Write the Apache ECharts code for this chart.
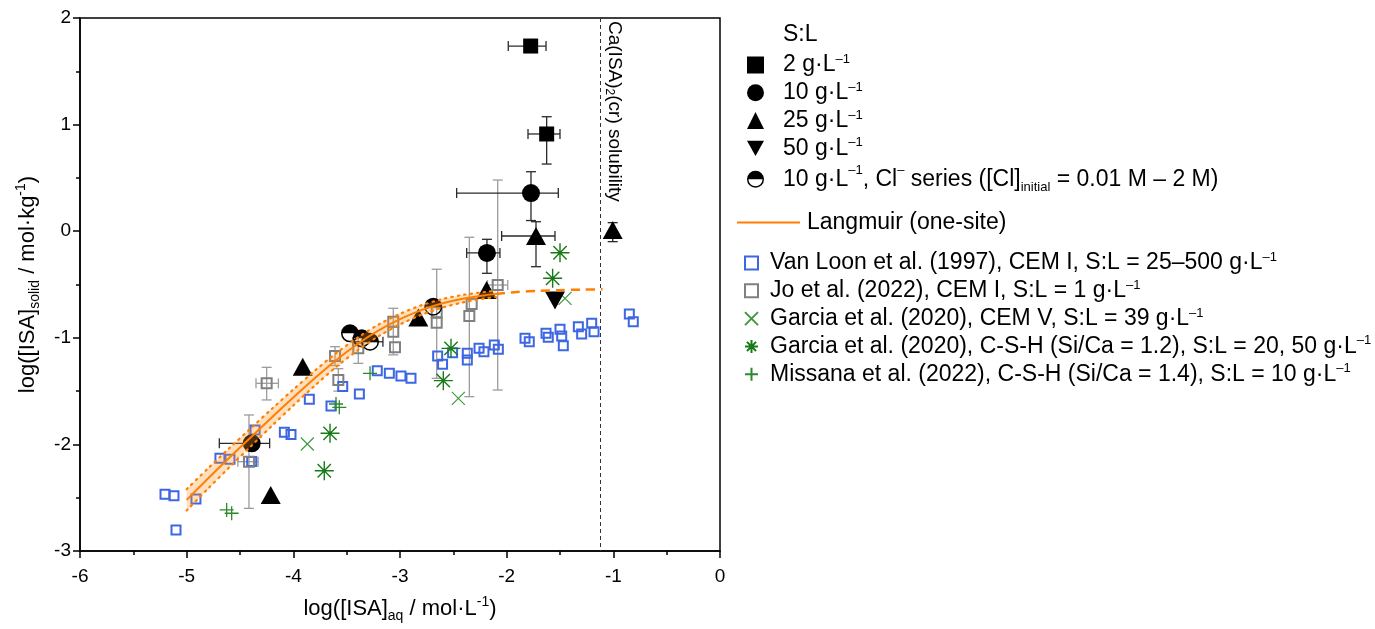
<!DOCTYPE html>
<html><head><meta charset="utf-8">
<script src="https://cdn.jsdelivr.net/npm/echarts@6/dist/echarts.min.js"></script>
<style>html,body{margin:0;padding:0;background:#fff}#c{width:1375px;height:629px}</style>
</head><body><div id="c"></div>
<script>
// ---------- data ----------
const xTicks = [-6, -5, -4, -3, -2, -1, 0];
const yTicks = [-3, -2, -1, 0, 1, 2];
const solubilityX = -1.12;

// this work, black symbols [x, y]
const sl2 = [[-1.775, 1.737], [-1.625, 0.912]];
const sl2Err = [[-1.985, -1.631, null, null], [-1.80, -1.50, 0.63, 1.074]];
const sl10 = [[-1.772, 0.358], [-2.185, -0.204], [-4.39, -1.99]];
const sl10Err = [[-2.469, -1.516, 0.10, 0.558], [-2.375, -2.063, -0.395, -0.076], [-4.694, -4.222, null, null]];
const sl25 = [[-3.912, -1.271], [-4.212, -2.475], [-2.828, -0.81], [-2.188, -0.552], [-1.725, -0.045], [-1.006, 0.011]];
const sl25Err = [[null, null, null, null], [null, null, null, null], [null, null, null, null], [null, null, null, null],
                 [-2.047, -1.547, -0.333, 0.089], [null, null, -0.098, 0.08]];
const sl50 = [[-1.547, -0.65]];
const clSeries = [[-3.469, -0.958], [-3.359, -1.005], [-3.281, -1.037], [-2.688, -0.708]];
const clErr = [[null, null, null, null], [null, null, null, null], [-3.44, -3.16, null, null], [null, null, null, null]];

// Langmuir (one-site) curve and confidence band
const fitX = [-5.0, -4.8, -4.6, -4.4, -4.2, -4.0, -3.8, -3.6, -3.4, -3.2, -3.0, -2.8, -2.6, -2.4, -2.2, -2.1];
const fitY = [-2.52, -2.32, -2.125, -1.935, -1.745, -1.56, -1.38, -1.21, -1.06, -0.93, -0.825, -0.74, -0.676, -0.631, -0.6, -0.588];
const fitHi = [-2.42, -2.225, -2.035, -1.85, -1.665, -1.485, -1.31, -1.145, -1.0, -0.875, -0.775, -0.695, -0.636, -0.596, -0.57, -0.558];
const fitLo = [-2.62, -2.415, -2.215, -2.02, -1.825, -1.635, -1.45, -1.275, -1.12, -0.985, -0.875, -0.785, -0.716, -0.666, -0.63, -0.618];
const extX = [-2.1, -1.9, -1.7, -1.5, -1.3, -1.1];
const extY = [-0.588, -0.57, -0.56, -0.553, -0.548, -0.545];

// literature data
const vanLoon = [[-5.203, -2.468], [-5.119, -2.481], [-5.1, -2.803], [-4.913, -2.512], [-4.688, -2.131], [-4.594, -2.14],
  [-4.359, -1.865], [-4.39, -2.16], [-4.084, -1.887], [-4.022, -1.906], [-3.85, -1.577], [-3.647, -1.64], [-3.537, -1.458],
  [-3.381, -1.527], [-3.213, -1.308], [-3.1, -1.333], [-2.991, -1.358], [-2.897, -1.38], [-2.647, -1.171], [-2.601, -1.249],
  [-2.507, -1.14], [-2.369, -1.146], [-2.369, -1.208], [-2.259, -1.099], [-2.213, -1.13], [-2.116, -1.067], [-2.078, -1.108],
  [-1.828, -1.005], [-1.788, -1.037], [-1.631, -0.958], [-1.61, -0.996], [-1.5, -0.92], [-1.484, -0.983], [-1.469, -1.074],
  [-1.328, -0.896], [-1.297, -0.964], [-1.203, -0.864], [-1.181, -0.943], [-0.85, -0.777], [-0.813, -0.849]];
const jo = [[-4.25, -1.427], [-4.416, -2.162], [-3.578, -1.396], [-3.609, -1.171], [-3.391, -1.099], [-3.063, -0.849],
  [-3.063, -0.943], [-3.047, -1.089], [-2.656, -0.858], [-2.656, -0.76], [-2.328, -0.683], [-2.35, -0.795], [-2.084, -0.505]];
const joErr = [[-4.35, -4.14, -1.583, -1.277], [-4.52, -4.33, -2.6, -1.724], [null, null, -1.5, -1.29], [null, null, -1.26, -1.083],
  [null, null, -1.24, -0.96], [null, null, null, null], [null, null, -1.16, -0.723], [null, null, null, null],
  [null, null, -1.38, -0.357], [null, null, null, null], [null, null, null, null], [null, null, -1.552, -0.057],
  [-2.18, -1.99, -1.49, 0.48]];
const garciaV = [[-3.869, -1.996], [-2.453, -1.568], [-1.453, -0.63]];
const garciaCSH = [[-3.656, -1.896], [-3.71, -2.247], [-2.522, -1.099], [-2.594, -1.402], [-1.5, -0.202], [-1.569, -0.442]];
const missana = [[-4.625, -2.615], [-4.578, -2.646], [-3.6, -1.621], [-3.569, -1.652], [-3.281, -1.333]];

// ---------- styling ----------
const FONT = 'Liberation Sans, Arial, sans-serif';
const ORANGE = '#ff7f00';
const BLUE = '#3d66e3';
const GRAY = '#808080';
const HALF = 'path://M0,10A10,10,0,1,1,20,10A10,10,0,1,1,0,10ZM1.7,10A8.3,8.3,0,1,0,18.3,10A8.3,8.3,0,1,0,1.7,10ZM0,10A10,10,0,0,1,20,10Z';
const INV = 'path://M0,0L20,0L10,18Z';
const XMARK = 'path://M0,0L20,20M20,0L0,20';
const STAR = 'path://M0,10L20,10M10,0L10,20M3,3L17,17M17,3L3,17';
const PLUS = 'path://M10,0L10,20M0,10L20,10';

const NAMES = {
  a: '2 g/L', b: '10 g/L', c: '25 g/L', d: '50 g/L', e: 'Cl series',
  f: 'Langmuir (one-site)',
  g: 'Van Loon', h: 'Jo', i: 'Garcia CEM V', j: 'Garcia C-S-H', k: 'Missana'
};
const LEGEND_RICH = {};
LEGEND_RICH[NAMES.a] = '{t|2 g·L}{p|–1}';
LEGEND_RICH[NAMES.b] = '{t|10 g·L}{p|–1}';
LEGEND_RICH[NAMES.c] = '{t|25 g·L}{p|–1}';
LEGEND_RICH[NAMES.d] = '{t|50 g·L}{p|–1}';
LEGEND_RICH[NAMES.e] = '{u|10 g·L}{q|–1}{u|, Cl}{q|–}{u| series ([Cl]}{b|initial}{u| = 0.01 M – 2 M)}';
LEGEND_RICH[NAMES.f] = '{t|Langmuir (one-site)}';
LEGEND_RICH[NAMES.g] = '{t|Van Loon et al. (1997), CEM I, S:L = 25–500 g·L}{p|–1}';
LEGEND_RICH[NAMES.h] = '{t|Jo et al. (2022), CEM I, S:L = 1 g·L}{p|–1}';
LEGEND_RICH[NAMES.i] = '{t|Garcia et al. (2020), CEM V, S:L = 39 g·L}{p|–1}';
LEGEND_RICH[NAMES.j] = '{t|Garcia et al. (2020), C-S-H (Si/Ca = 1.2), S:L = 20, 50 g·L}{p|–1}';
LEGEND_RICH[NAMES.k] = '{t|Missana et al. (2022), C-S-H (Si/Ca = 1.4), S:L = 10 g·L}{p|–1}';

const LF = 23;
const richStyles = {
  t: { fontSize: LF, lineHeight: 24, fontFamily: FONT, color: '#000' },
  p: { fontSize: 13, lineHeight: 13, verticalAlign: 'top', fontFamily: FONT, color: '#000' },
  u: { fontSize: LF, lineHeight: 30, fontFamily: FONT, color: '#000' },
  q: { fontSize: 13, lineHeight: 24, verticalAlign: 'top', fontFamily: FONT, color: '#000' },
  b: { fontSize: 13, lineHeight: 18, verticalAlign: 'bottom', fontFamily: FONT, color: '#000' }
};

function errRenderer(pts, errs, color) {
  return function (params, api) {
    const e = errs[params.dataIndex];
    const p = pts[params.dataIndex];
    const st = { stroke: color, lineWidth: 1.3, fill: null };
    const cap = 5;
    const ch = [];
    if (e[0] != null) {
      const a = api.coord([e[0], p[1]]), b = api.coord([e[1], p[1]]);
      ch.push({ type: 'line', shape: { x1: a[0], y1: a[1], x2: b[0], y2: b[1] }, style: st });
      ch.push({ type: 'line', shape: { x1: a[0], y1: a[1] - cap, x2: a[0], y2: a[1] + cap }, style: st });
      ch.push({ type: 'line', shape: { x1: b[0], y1: b[1] - cap, x2: b[0], y2: b[1] + cap }, style: st });
    }
    if (e[2] != null) {
      const a = api.coord([p[0], e[2]]), b = api.coord([p[0], e[3]]);
      ch.push({ type: 'line', shape: { x1: a[0], y1: a[1], x2: b[0], y2: b[1] }, style: st });
      ch.push({ type: 'line', shape: { x1: a[0] - cap, y1: a[1], x2: a[0] + cap, y2: a[1] }, style: st });
      ch.push({ type: 'line', shape: { x1: b[0] - cap, y1: b[1], x2: b[0] + cap, y2: b[1] }, style: st });
    }
    return { type: 'group', children: ch };
  };
}

const blackPts = [].concat(sl2, sl10, sl25, clSeries);
const blackErr = [].concat(sl2Err, sl10Err, sl25Err, clErr);

const chart = echarts.init(document.getElementById('c'), null, { renderer: 'canvas' });

const axisCommon = {
  type: 'value',
  interval: 1,
  axisLine: { show: true, onZero: false, lineStyle: { color: '#000', width: 1.5 } },
  axisTick: { show: true, length: 7, lineStyle: { color: '#000', width: 1.5 } },
  minorTick: { show: true, splitNumber: 2, length: 4, lineStyle: { color: '#000', width: 1.5 } },
  splitLine: { show: false },
  axisLabel: { fontSize: 19, color: '#000', fontFamily: FONT, margin: 9 },
  nameLocation: 'middle'
};

function sc(name, data, symbol, size, z, style) {
  return { type: 'scatter', name: name, data: data, symbol: symbol, symbolSize: size, z: z,
    itemStyle: Object.assign({ opacity: 1 }, style), emphasis: { disabled: true } };
}

const option = {
  animation: false,
  backgroundColor: '#fff',
  grid: { left: 80, right: 655, top: 18, bottom: 78, show: true, borderColor: '#000', borderWidth: 1.5,
    containLabel: false, outerBoundsMode: 'none' },
  xAxis: Object.assign({}, axisCommon, {
    min: xTicks[0], max: xTicks[xTicks.length - 1],
    axisLabel: { fontSize: 19, color: '#000', fontFamily: FONT, margin: 16 },
    name: '{n|log([ISA]}{s|aq}{n| / mol·L}{p|-1}{n|)}',
    nameGap: 44,
    nameTextStyle: { rich: {
      n: { fontSize: 22, lineHeight: 28, fontFamily: FONT, color: '#000' },
      s: { fontSize: 14, lineHeight: 14, verticalAlign: 'bottom', fontFamily: FONT, color: '#000' },
      p: { fontSize: 14, lineHeight: 14, verticalAlign: 'top', fontFamily: FONT, color: '#000' } } }
  }),
  yAxis: Object.assign({}, axisCommon, {
    min: yTicks[0], max: yTicks[yTicks.length - 1],
    name: '{n|log([ISA]}{s|solid}{n| / mol·kg}{p|-1}{n|)}',
    nameGap: 38,
    nameTextStyle: { rich: {
      n: { fontSize: 22, lineHeight: 28, fontFamily: FONT, color: '#000' },
      s: { fontSize: 14, lineHeight: 14, verticalAlign: 'bottom', fontFamily: FONT, color: '#000' },
      p: { fontSize: 14, lineHeight: 14, verticalAlign: 'top', fontFamily: FONT, color: '#000' } } }
  }),
  legend: [
    { data: [NAMES.a, NAMES.b, NAMES.c, NAMES.d, NAMES.e], orient: 'vertical', left: 747, top: 53, padding: 0,
      itemGap: 4.3, itemWidth: 17, itemHeight: 17, selectedMode: false,
      itemStyle: { opacity: 1 },
      formatter: n => LEGEND_RICH[n], textStyle: { padding: [0, 0, 0, 14], rich: richStyles } },
    { data: [{ name: NAMES.f, icon: 'rect' }], orient: 'vertical', left: 737, top: 211, padding: 0, itemWidth: 63, itemHeight: 2,
      selectedMode: false, formatter: n => LEGEND_RICH[n], textStyle: { padding: [0, 0, 0, 2], rich: richStyles } },
    { data: [NAMES.g, NAMES.h, NAMES.i, NAMES.j, NAMES.k], orient: 'vertical', left: 744, top: 251, padding: 0,
      itemGap: 4.3, itemWidth: 13, itemHeight: 13, selectedMode: false,
      formatter: n => LEGEND_RICH[n], textStyle: { padding: [0, 0, 0, 7], rich: richStyles } }
  ],
  graphic: [
    { type: 'text', left: 783, top: 23, style: { text: 'S:L', font: LF + 'px ' + FONT, fill: '#000' } }
  ],
  series: [
    { type: 'custom', name: 'err-gray', silent: true, z: 1, data: jo, encode: { x: 0, y: 1 },
      renderItem: errRenderer(jo, joErr, '#9c9c9c') },
    { type: 'custom', name: 'err-black', silent: true, z: 1, data: blackPts, encode: { x: 0, y: 1 },
      renderItem: errRenderer(blackPts, blackErr, '#2a2a2a') },
    sc(NAMES.g, vanLoon, 'rect', 9, 2, { color: 'rgba(255,255,255,0)', borderColor: BLUE, borderWidth: 2 }),
    sc(NAMES.h, jo, 'rect', 10, 2, { color: 'rgba(255,255,255,0)', borderColor: GRAY, borderWidth: 2 }),
    sc(NAMES.i, garciaV, XMARK, 13, 2, { color: 'rgba(0,0,0,0)', borderColor: '#3f9a3f', borderWidth: 1.2 }),
    sc(NAMES.j, garciaCSH, STAR, 19, 2, { color: 'rgba(0,0,0,0)', borderColor: '#167a16', borderWidth: 1.4 }),
    sc(NAMES.k, missana, PLUS, 14, 2, { color: 'rgba(0,0,0,0)', borderColor: '#2a8a2a', borderWidth: 1.3 }),
    sc(NAMES.a, sl2, 'rect', 15, 3, { color: '#000' }),
    sc(NAMES.b, sl10, 'circle', 18, 3, { color: '#000' }),
    sc(NAMES.c, sl25, 'triangle', [20, 18], 3, { color: '#000' }),
    sc(NAMES.d, sl50, INV, [20, 18], 3, { color: '#000' }),
    sc(NAMES.e, clSeries, HALF, 18, 3, { color: '#000' }),
    { type: 'custom', name: 'band', silent: true, z: 5,
      data: fitX.map((x, i) => [x, fitLo[i], fitHi[i]]), encode: { x: 0, y: [1, 2] },
      renderItem: function (params, api) {
        if (params.dataIndex !== 0) return { type: 'group', children: [] };
        const pts = [];
        for (let i = 0; i < fitX.length; i++) pts.push(api.coord([fitX[i], fitHi[i]]));
        for (let i = fitX.length - 1; i >= 0; i--) pts.push(api.coord([fitX[i], fitLo[i]]));
        return { type: 'polygon', shape: { points: pts }, style: { fill: 'rgba(255,150,40,0.3)' } };
      } },
    { type: 'line', name: 'band-hi', data: fitX.map((x, i) => [x, fitHi[i]]), symbol: 'none', smooth: 0.3, z: 6, silent: true,
      lineStyle: { color: ORANGE, width: 2.2, type: [1.5, 5], cap: 'round' } },
    { type: 'line', name: 'band-lo', data: fitX.map((x, i) => [x, fitLo[i]]), symbol: 'none', smooth: 0.3, z: 6, silent: true,
      lineStyle: { color: ORANGE, width: 2.2, type: [1.5, 5], cap: 'round' } },
    { type: 'line', name: NAMES.f, data: fitX.map((x, i) => [x, fitY[i]]), symbol: 'none', showSymbol: false, smooth: 0.3, z: 7,
      lineStyle: { color: ORANGE, width: 2 }, itemStyle: { color: ORANGE } },
    { type: 'line', name: 'extrapolation', data: extX.map((x, i) => [x, extY[i]]), symbol: 'none', smooth: 0.3, z: 7,
      lineStyle: { color: ORANGE, width: 2.5, type: [9, 6] },
      markLine: {
        silent: true, symbol: ['none', 'none'], animation: false,
        lineStyle: { color: '#333', width: 1, type: [4, 3] },
        label: { show: true, position: 'insideStartTop', distance: 3,
          formatter: '{a|Ca(ISA)}{s|2}{a|(cr) solubility}',
          rich: { a: { fontSize: 19, lineHeight: 22, fontFamily: FONT, color: '#000' },
                  s: { fontSize: 12, lineHeight: 12, verticalAlign: 'bottom', fontFamily: FONT, color: '#000' } } },
        data: [[{ coord: [solubilityX, yTicks[yTicks.length - 1]] }, { coord: [solubilityX, yTicks[0]] }]]
      } }
  ]
};
chart.setOption(option);
</script></body></html>
